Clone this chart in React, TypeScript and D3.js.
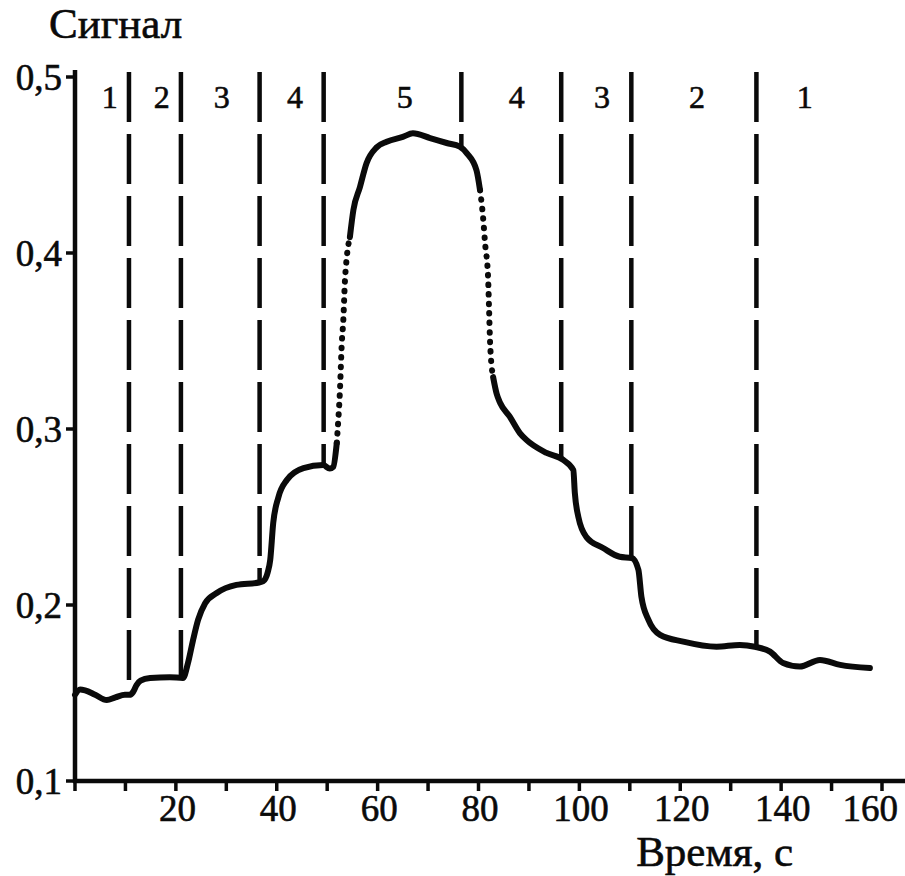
import React from "react";
import * as d3 from "d3";

// Signal vs time
const times = [
  0, 1, 2, 4, 6.3, 8, 9.9, 10.8, 11.5, 12.2, 13, 14.9, 18.8, 21.4, 22.4, 23.4, 24.4,
  25.8, 28.1, 32, 36.5, 37.3, 38.2, 38.7, 39.3, 40.3, 42, 45.3, 49.2, 50.5,
  51.2, 51.9, 52.2, 52.5, 52.9, 53.2, 53.5, 53.9, 54.5, 55.2, 56.5, 57.8, 59.8,
  61.8, 65, 67, 70.4, 73.7, 76.3, 77.7, 79.6, 80.3, 80.9, 81.3, 81.9, 82.1, 82.3,
  82.9, 83.6, 84.3, 86.2, 88.2, 89.5, 93.5, 96.8, 98.8, 99.1, 99.8, 101.4, 104.7,
  108, 110.4, 111.7, 112.3, 113.7, 116, 120.6, 127.2, 131.8, 134.8, 137.8, 140.4,
  143.7, 147.7, 151.7, 157.6,
];
const signal = [
  0.149, 0.152, 0.1515, 0.149, 0.146, 0.1475, 0.149, 0.149, 0.1505, 0.1545, 0.157, 0.1585, 0.159, 0.1585, 0.167, 0.18, 0.1915,
  0.201, 0.2068, 0.2114, 0.2128, 0.2135, 0.2185, 0.2255, 0.2466, 0.261, 0.271, 0.2778, 0.2795, 0.2775,
  0.2785, 0.292, 0.305, 0.32, 0.349, 0.362, 0.383, 0.398, 0.409, 0.4245, 0.4375, 0.451, 0.46,
  0.4632, 0.466, 0.468, 0.4653, 0.4625, 0.4604, 0.4566, 0.447, 0.4358, 0.4205, 0.4057, 0.386, 0.3676, 0.349,
  0.3295, 0.32, 0.3148, 0.307, 0.2977, 0.2938, 0.2864, 0.2824, 0.2767, 0.2636, 0.25, 0.2386, 0.2324,
  0.2274, 0.2267, 0.22, 0.2047, 0.1915, 0.183, 0.1792, 0.1763, 0.1773, 0.1763, 0.1735, 0.167,
  0.165, 0.1688, 0.166, 0.1642,
];

// Sparse (dotted) parts of the trace: steep rise and fall of stage 5
const dottedRanges = [
  [51.9, 54.5],
  [80.3, 82.9],
];

// Vertical dashed markers (time, s)
const markerTimes = [10.7, 21.0, 36.6, 49.3, 76.6, 96.4, 110.3, 135.1];
// Stage labels
const stageLabels = ["1", "2", "3", "4", "5", "4", "3", "2", "1"];
const stageLabelTimes = [6.9, 17.2, 29.1, 43.6, 65.4, 87.6, 104.5, 123.3, 144.7];

const xTicks = d3.range(0, 161, 10);
const xLabelTicks = [20, 40, 60, 80, 100, 120, 140, 160];
const yTicks = [0.1, 0.2, 0.3, 0.4, 0.5];
const yLabel = "Сигнал";
const xLabel = "Время, с";

const W = 905;
const H = 876;
const FONT = "'Liberation Serif', 'Times New Roman', serif";
const INK = "#0a0a0a";

export default function App() {
  const x = d3.scaleLinear().domain([0, 160]).range([75, 882]);
  const y = d3.scaleLinear().domain([0.1, 0.5]).range([781, 77]);

  const data = times.map((t, i) => ({ t, v: signal[i] }));
  const line = d3
    .line<{ t: number; v: number }>()
    .x((d) => x(d.t))
    .y((d) => y(d.v))
    .curve(d3.curveMonotoneX);

  // split into solid/dotted pieces
  const bounds = [0, ...dottedRanges.flat(), 1000];
  const pieces: { pts: typeof data; dotted: boolean }[] = [];
  for (let i = 0; i < bounds.length - 1; i++) {
    const a = bounds[i];
    const b = bounds[i + 1];
    pieces.push({
      pts: data.filter((d) => d.t >= a && d.t <= b),
      dotted: i % 2 === 1,
    });
  }

  const interp = d3.scaleLinear().domain(times).range(signal);
  const textStroke = { stroke: INK, strokeWidth: 0.6 };

  return (
    <svg
      width={W}
      height={H}
      style={{ position: "absolute", left: 0, top: 0, background: "#fff" }}
      fontFamily={FONT}
    >
      <rect width={W} height={H} fill="#fff" />
      {/* Axis titles */}
      <text x={49} y={38} fontSize={43} fill={INK} {...textStroke}>
        {yLabel}
      </text>
      <text x={793} y={866} fontSize={43} fill={INK} textAnchor="end" {...textStroke}>
        {xLabel}
      </text>

      {/* Axes */}
      <line x1={x(0)} x2={x(0)} y1={y(0.1) + 2} y2={70} stroke={INK} strokeWidth={4.5} />
      <line x1={x(0) - 2} x2={W} y1={y(0.1)} y2={y(0.1)} stroke={INK} strokeWidth={4.5} />
      {yTicks.map((v) => (
        <g key={"y" + v}>
          <line x1={x(0) - 9} x2={x(0)} y1={y(v)} y2={y(v)} stroke={INK} strokeWidth={3.5} />
          <text
            x={62}
            y={y(v)}
            fontSize={37}
            textAnchor="end"
            dominantBaseline="central"
            fill={INK}
            {...textStroke}
          >
            {String(v.toFixed(1)).replace(".", ",")}
          </text>
        </g>
      ))}
      {xTicks.map((t) => (
        <line
          key={"x" + t}
          x1={x(t)}
          x2={x(t)}
          y1={y(0.1)}
          y2={y(0.1) + 10}
          stroke={INK}
          strokeWidth={3.5}
        />
      ))}
      {xLabelTicks.map((t, i) => {
        const last = i === xLabelTicks.length - 1;
        return (
          <text
            key={"xl" + t}
            x={last ? W - 7 : x(t) + 1.5}
            y={821}
            fontSize={37}
            textAnchor={last ? "end" : "middle"}
            fill={INK}
            {...textStroke}
          >
            {t}
          </text>
        );
      })}

      {/* Dashed markers */}
      {markerTimes.map((t, i) => (
        <line
          key={"m" + i}
          x1={x(t)}
          x2={x(t)}
          y1={72}
          y2={y(interp(t))}
          stroke={INK}
          strokeWidth={4.5}
          strokeDasharray="50 12"
        />
      ))}

      {/* Stage labels */}
      {stageLabels.map((s, i) => (
        <text
          key={"s" + i}
          x={x(stageLabelTimes[i])}
          y={y(0.5) + 20}
          fontSize={32}
          textAnchor="middle"
          dominantBaseline="central"
          fill={INK}
          {...textStroke}
        >
          {s}
        </text>
      ))}

      {/* Signal trace */}
      {pieces.map((p, i) => (
        <path
          key={"p" + i}
          d={line(p.pts) || ""}
          fill="none"
          stroke={INK}
          strokeWidth={p.dotted ? 6 : 6}
          strokeLinecap="round"
          strokeLinejoin="round"
          strokeDasharray={p.dotted ? "0.5 9" : undefined}
        />
      ))}
    </svg>
  );
}
